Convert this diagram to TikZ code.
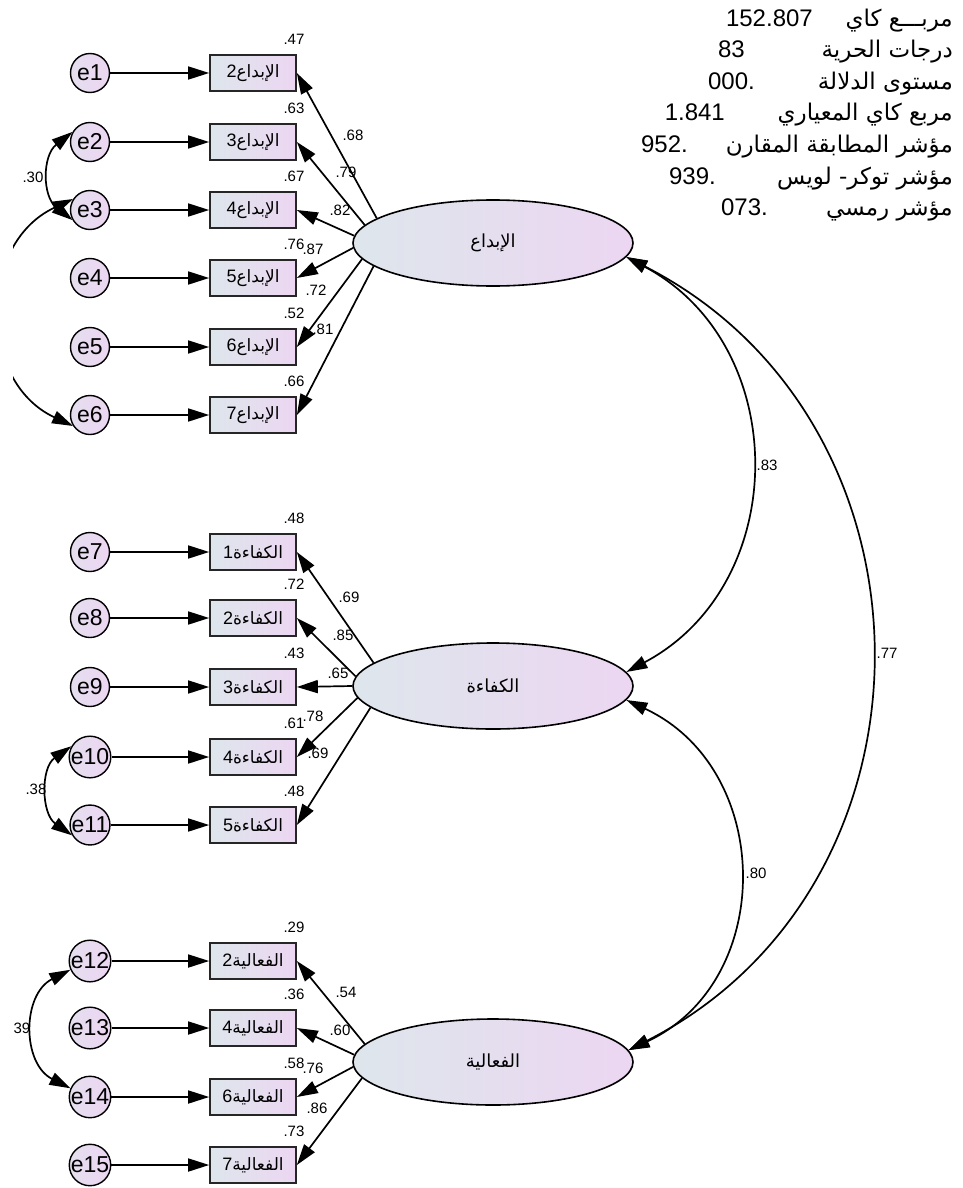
\documentclass[tikz,border=0pt]{standalone}
\usepackage{fontspec}
\setmainfont{Liberation Sans}
\newfontfamily\arabicfont[Script=Arabic]{DejaVu Sans}
\TeXXeTstate=1
\usetikzlibrary{arrows.meta,shapes.geometric}
\definecolor{cL}{RGB}{222,230,236}
\definecolor{cR}{RGB}{236,214,242}
\newcommand{\arb}[2]{{\fontsize{#1}{#1}\arabicfont\beginR #2\endR}}
\newcommand{\blab}[2]{{\fontsize{18}{18}\selectfont #1}\arb{17}{#2}}
\begin{document}
\begin{tikzpicture}[x=1pt,y=1pt,
  arr/.style={line width=1.7pt,-{Triangle[length=21pt,width=13pt]}},
  darr/.style={line width=1.7pt,{Triangle[length=21pt,width=13pt]}-{Triangle[length=21pt,width=13pt]}},
  err/.style={circle,draw=black,line width=1.4pt,minimum size=39pt,inner sep=0pt,
    left color=cL!50!cR,right color=cR,font=\fontsize{23}{23}\selectfont},
  obs/.style={rectangle,draw=black!85,line width=1.7pt,minimum width=86pt,minimum height=36pt,
    inner sep=0pt,left color=cL,right color=cR},
  lat/.style={ellipse,draw=black,line width=1.6pt,minimum width=280pt,minimum height=86pt,
    inner sep=0pt,left color=cL,right color=cR},
  lbl/.style={inner sep=0pt,font=\fontsize{15}{15}\selectfont},
  stn/.style={inner sep=0pt,anchor=base east,font=\fontsize{24}{24}\selectfont},
  sta/.style={inner sep=0pt,anchor=base east,font=\fontsize{23}{23}\arabicfont},
]
\useasboundingbox (0,0) rectangle (963,-1188);

% latent variables
\node[lat] (ib) at (493,-243) {\arb{18}{الإبداع}};
\node[lat] (kf) at (493,-686) {\arb{18}{الكفاءة}};
\node[lat] (fa) at (493,-1062) {\arb{18}{الفعالية}};

% group 1
\foreach \i/\y/\d/\r in {1/73/2/.47, 2/142/3/.63, 3/210/4/.67, 4/278/5/.76, 5/347/6/.52, 6/415/7/.66} {
  \node[err] (e\i) at (90,-\y) {e\i};
  \node[obs] (b\i) at (253,-\y) {\blab{\d}{الإبداع}};
  \node[lbl] (r\i) at (294,-\y+34) {\r};
  \draw[arr] (e\i) -- (b\i);
}
% group 2
\foreach \i/\y/\d/\r in {7/552/1/.48, 8/618/2/.72, 9/687/3/.43, 10/757/4/.61, 11/825/5/.48} {
  \node[err] (e\i) at (90,-\y) {e\i};
  \node[obs] (b\i) at (253,-\y) {\blab{\d}{الكفاءة}};
  \node[lbl] (r\i) at (294,-\y+34) {\r};
  \draw[arr] (e\i) -- (b\i);
}
% group 3
\foreach \i/\y/\d/\r in {12/961/2/.29, 13/1028/4/.36, 14/1097/6/.58, 15/1165/7/.73} {
  \node[err] (e\i) at (90,-\y) {e\i};
  \node[obs] (b\i) at (253,-\y) {\blab{\d}{الفعالية}};
  \node[lbl] (r\i) at (294,-\y+34) {\r};
  \draw[arr] (e\i) -- (b\i);
}

% loadings
\draw[arr] (ib.168) -- (b1.east);
\draw[arr] (ib.172) -- (b2.east);
\draw[arr] (ib.177.5) -- (b3.east);
\draw[arr] (ib.182.5) -- (b4.east);
\draw[arr] (ib.187.4) -- (b5.east);
\draw[arr] (ib.191.8) -- (b6.east);
\draw[arr] (kf.169.6) -- (b7.east);
\draw[arr] (kf.176.2) -- (b8.east);
\draw[arr] (kf.180) -- (b9.east);
\draw[arr] (kf.185) -- (b10.east);
\draw[arr] (kf.190) -- (b11.east);
\draw[arr] (fa.172.5) -- (b12.east);
\draw[arr] (fa.177) -- (b13.east);
\draw[arr] (fa.182.5) -- (b14.east);
\draw[arr] (fa.187) -- (b15.east);

\node[lbl] (l1) at (353,-135) {.68};
\node[lbl] (l2) at (346,-172) {.79};
\node[lbl] (l3) at (340,-210) {.82};
\node[lbl] (l4) at (313,-249) {.87};
\node[lbl] (l5) at (316,-290) {.72};
\node[lbl] (l6) at (323,-329) {.81};
\node[lbl] (l7) at (349,-597) {.69};
\node[lbl] (l8) at (343,-635) {.85};
\node[lbl] (l9) at (338,-673) {.65};
\node[lbl] (l10) at (313,-716) {.78};
\node[lbl] (l11) at (318,-753) {.69};
\node[lbl] (l12) at (346,-992) {.54};
\node[lbl] (l13) at (340,-1030) {.60};
\node[lbl] (l14) at (313,-1068) {.76};
\node[lbl] (l15) at (317,-1108) {.86};

% error covariances
\draw[darr] (e2.150) to[out=218,in=142,looseness=1.12] (e3.210);
\node[lbl] (c1) at (33,-177) {.30};
\begin{scope}
  \clip (13,0) rectangle (200,-1188);
  \draw[darr] (e3.147) to[out=205,in=155,looseness=1.19] (e6.213);
\end{scope}
\draw[darr] (e10.150) to[out=215,in=145,looseness=1.08] (e11.210);
\node[lbl] (c2) at (36,-789) {.38};
\draw[darr] (e12.204) to[out=207,in=153,looseness=1.18] (e14.156);
\node[lbl] (c3) at (22,-1028) {39};

% latent covariances
\draw[darr] (ib.-6.4) to[out=-28,in=28,looseness=1.16] (kf.6);
\draw[darr] (kf.-6.8) to[out=-25,in=25,looseness=1.19] (fa.5);
\draw[darr] (ib.-6.4) to[out=-27,in=27,looseness=1.17] (fa.5);
\node[lbl] (c4) at (767,-465) {.83};
\node[lbl] (c5) at (756,-873) {.80};
\node[lbl] (c6) at (887,-653) {.77};

% fit statistics
\node[stn] (n1) at (813,-26.5) {152.807};
\node[sta] (a1) at (953,-26.5) {\beginR مربـــع كاي\endR};
\node[stn] (n2) at (745,-58) {83};
\node[sta] (a2) at (953,-58) {\beginR درجات الحرية\endR};
\node[stn] (n3) at (755,-89.5) {000.};
\node[sta] (a3) at (953,-89.5) {\beginR مستوى الدلالة\endR};
\node[stn] (n4) at (725,-121) {1.841};
\node[sta] (a4) at (953,-121) {\beginR مربع كاي المعياري\endR};
\node[stn] (n5) at (688,-152.5) {952.};
\node[sta] (a5) at (953,-152.5) {\beginR مؤشر المطابقة المقارن\endR};
\node[stn] (n6) at (716,-184) {939.};
\node[sta] (a6) at (953,-184) {\beginR مؤشر توكر- لويس\endR};
\node[stn] (n7) at (768,-215.5) {073.};
\node[sta] (a7) at (953,-215.5) {\beginR مؤشر رمسي\endR};
\end{tikzpicture}
\end{document}
